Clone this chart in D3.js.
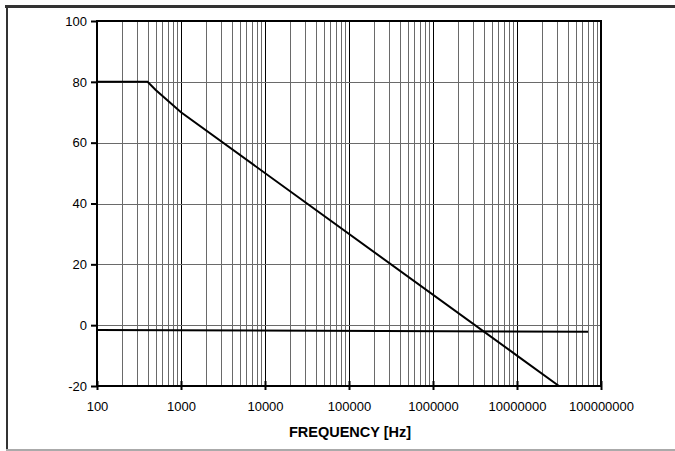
<!DOCTYPE html>
<html>
<head>
<meta charset="utf-8">
<script src="https://cdn.jsdelivr.net/npm/d3@7"></script>
<style>
html,body{margin:0;padding:0;background:#fff;}
svg{display:block;}
text{font-family:"Liberation Sans",Arial,sans-serif;}
</style>
</head>
<body>
<svg id="chart" width="675" height="451"></svg>
<script>
// Data
const xTickValues = [100, 1000, 10000, 100000, 1000000, 10000000, 100000000];
const xTickLabels = ["100", "1000", "10000", "100000", "1000000", "10000000", "100000000"];
const yTickValues = [-20, 0, 20, 40, 60, 80, 100];
const yTickLabels = ["-20", "0", "20", "40", "60", "80", "100"];
const seriesAFreq = [100, 400, 500, 1000, 10000000, 31600000];
const seriesAValue = [80, 80, 77.3, 70, -10, -20];
const seriesBFreq = [100, 70000000];
const seriesBValue = [-1.6, -2.2];
const xTitle = "FREQUENCY [Hz]";

const svg = d3.select("#chart");
const W = 675, H = 451;
const m = {left: 97, right: 601, top: 21, bottom: 386};

const x = d3.scaleLog().domain([100, 1e8]).range([m.left, m.right]);
const y = d3.scaleLinear().domain([-20, 100]).range([m.bottom, m.top]);

// outer frame
svg.append("line").attr("x1", 5).attr("x2", W).attr("y1", 6.5).attr("y2", 6.5)
  .attr("stroke", "#333").attr("stroke-width", 3);
svg.append("line").attr("x1", 7).attr("x2", 7).attr("y1", 5).attr("y2", 450)
  .attr("stroke", "#333").attr("stroke-width", 2);
svg.append("line").attr("x1", 6).attr("x2", W).attr("y1", 450).attr("y2", 450)
  .attr("stroke", "#aaa").attr("stroke-width", 2);

// vertical grid
const minor = [], major = [];
for (let k = 2; k <= 7; k++) {
  for (let d = 1; d <= 9; d++) {
    const v = d * Math.pow(10, k);
    if (d === 1) { if (k > 2) major.push(v); } else minor.push(v);
  }
}
svg.append("g").selectAll("line").data(minor).join("line")
  .attr("x1", d => Math.round(x(d)) + 0.5).attr("x2", d => Math.round(x(d)) + 0.5)
  .attr("y1", m.top).attr("y2", m.bottom)
  .attr("stroke", "#6a6a6a").attr("stroke-width", 1);
svg.append("g").selectAll("line").data(major).join("line")
  .attr("x1", d => Math.round(x(d)) + 0.5).attr("x2", d => Math.round(x(d)) + 0.5)
  .attr("y1", m.top).attr("y2", m.bottom)
  .attr("stroke", "#000").attr("stroke-width", 1);

// horizontal grid
svg.append("g").selectAll("line").data(yTickValues.filter(v => v > -20 && v < 100)).join("line")
  .attr("x1", m.left).attr("x2", m.right)
  .attr("y1", d => Math.round(y(d)) + 0.5).attr("y2", d => Math.round(y(d)) + 0.5)
  .attr("stroke", "#6a6a6a").attr("stroke-width", 1);

// plot frame
svg.append("rect").attr("x", m.left).attr("y", m.top)
  .attr("width", m.right - m.left).attr("height", m.bottom - m.top)
  .attr("fill", "none").attr("stroke", "#000").attr("stroke-width", 2);

// axes
const xAxis = d3.axisBottom(x).tickValues(xTickValues)
  .tickFormat((d, i) => xTickLabels[i]).tickSize(4).tickPadding(12);
const gx = svg.append("g").attr("transform", `translate(0,${m.bottom})`).call(xAxis);
gx.select(".domain").remove();
gx.selectAll(".tick line").attr("y1", -5).attr("y2", 4).attr("stroke", "#000").attr("stroke-width", 2);
gx.selectAll(".tick text").attr("font-size", 13).attr("fill", "#000")
  .attr("font-family", "'Liberation Sans', Arial, sans-serif");

const yAxis = d3.axisLeft(y).tickValues(yTickValues)
  .tickFormat((d, i) => yTickLabels[i]).tickSize(6).tickPadding(4);
const gy = svg.append("g").attr("transform", `translate(${m.left},0)`).call(yAxis);
gy.select(".domain").remove();
gy.selectAll(".tick line").attr("stroke", "#000").attr("stroke-width", 2);
gy.selectAll(".tick text").attr("font-size", 13).attr("fill", "#000")
  .attr("font-family", "'Liberation Sans', Arial, sans-serif");

// series
const line = d3.line().x(d => x(d[0])).y(d => y(d[1]));
svg.append("path").datum(seriesAFreq.map((f, i) => [f, seriesAValue[i]]))
  .attr("d", line).attr("fill", "none").attr("stroke", "#000").attr("stroke-width", 2);
svg.append("path").datum(seriesBFreq.map((f, i) => [f, seriesBValue[i]]))
  .attr("d", line).attr("fill", "none").attr("stroke", "#000").attr("stroke-width", 2);

// title
svg.append("text").attr("x", (m.left + m.right) / 2 + 1).attr("y", 437)
  .attr("text-anchor", "middle").attr("font-size", 14.5).attr("font-weight", "bold")
  .attr("fill", "#000").text(xTitle);
</script>
</body>
</html>
